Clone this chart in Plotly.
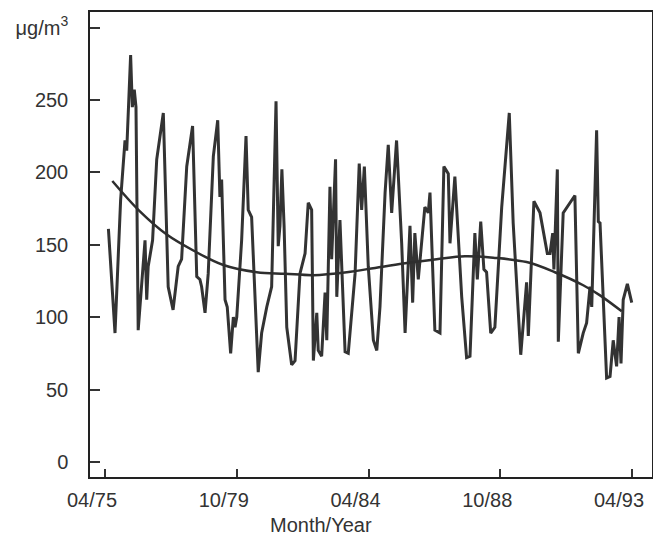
import plotly.graph_objects as go

# Month index: 0 = April 1975
series_month = [1.4, 4.1, 6.4, 8.2, 8.9, 10.5, 11.2, 12.0, 12.7, 13.6, 16.4, 17.1, 17.7, 19.5, 21.2,
                23.9, 25.9, 27.9, 30.0, 31.4, 33.5, 35.9, 37.6, 38.9, 39.6, 41.0, 42.3, 44.4, 46.2,
                47.1, 47.8, 49.2, 50.1, 51.5, 52.6, 53.3, 54.0, 56.0, 57.8, 58.7, 60.1, 62.8, 64.2,
                66.3, 68.3, 70.1, 71.0, 71.7, 72.5, 73.4, 74.5, 76.5, 77.9, 79.9, 82.0, 83.3, 84.7,
                85.4, 86.8, 87.4, 88.8, 90.2, 90.9, 92.2, 92.9, 94.5, 95.0, 96.3, 98.4, 99.7, 102.5,
                104.2, 105.2, 106.3, 107.9, 110.0, 111.4, 112.7, 114.8, 116.1, 117.5, 119.5, 121.6,
                123.0, 125.0, 126.1, 127.0, 128.4, 131.1, 132.5, 133.2, 135.2, 137.3, 138.9, 140.7,
                141.4, 143.4, 146.2, 148.2, 149.6, 151.6, 152.6, 154.0, 155.3, 156.4, 158.1, 159.8,
                162.6, 165.7, 167.3, 170.4, 172.8, 173.5, 175.8, 178.3, 181.3, 182.4, 183.5, 184.0,
                185.4, 185.8, 187.2, 187.8, 192.6, 194.0, 196.0, 197.4, 198.8, 199.5, 201.5, 202.2,
                202.9, 205.6, 207.0, 208.3, 209.7, 210.7, 211.5, 212.4, 214.1, 215.9]
series_value = [161, 89, 181, 222, 215, 281, 245, 257, 245, 91, 153, 112, 135, 153, 209,
                241, 121, 105, 135, 140, 204, 232, 128, 126, 121, 103, 130, 211, 236,
                183, 195, 112, 107, 75, 100, 93, 100, 153, 225, 174, 169, 62, 89,
                107, 121, 249, 149, 163, 202, 163, 93, 67, 70, 130, 144, 179, 174,
                70, 103, 77, 73, 117, 84, 190, 140, 209, 114, 167, 76, 75, 130,
                206, 174, 204, 135, 84, 77, 107, 186, 219, 172, 222, 151,
                89, 163, 110, 158, 126, 176, 172, 186, 91, 89, 204, 199,
                151, 197, 114, 72, 73, 158, 126, 166, 133, 131, 89, 93,
                176, 241, 165, 74, 124, 87, 180, 172, 144, 144, 158, 133,
                202, 83, 144, 172, 184, 75, 89, 96, 121, 107, 229, 166,
                165, 58, 59, 84, 66, 100, 68, 112, 123, 110]

trend_month = [3.0, 14.3, 25.3, 36.2, 48.5, 62.2, 73.8, 85.4, 99.1, 110.7, 122.3, 135.9,
               147.5, 159.1, 172.8, 184.4, 196.0, 202.9, 211.8]
trend_value = [194, 173, 157, 146, 136, 131, 130, 129, 131, 134, 137, 140,
               142, 141, 138, 131, 122, 115, 104]

x_tick_pos = [0, 54, 108, 162, 216]
x_tick_text = ["04/75", "10/79", "04/84", "10/88", "04/93"]
y_tick_pos = [0, 50, 100, 150, 200, 250, 300]
y_tick_text = ["0", "50", "100", "150", "200", "250", "\u03bcg/m<sup>3</sup>"]

fig = go.Figure()
fig.add_trace(go.Scatter(x=series_month, y=series_value, mode="lines",
                         line=dict(color="#333333", width=3), showlegend=False, hoverinfo="skip"))
fig.add_trace(go.Scatter(x=trend_month, y=trend_value, mode="lines",
                         line=dict(color="#2e2e2e", width=2.5, shape="spline"),
                         showlegend=False, hoverinfo="skip"))

font = dict(family="Liberation Sans, Arial, sans-serif", size=20, color="#333333")
L, R, T, B = 90, 1, 12, 59
W, H = 653, 536
pw, ph = W - L - R, H - T - B

fig.update_layout(
    width=W, height=H,
    margin=dict(l=L, r=R, t=T, b=B, autoexpand=False),
    paper_bgcolor="white", plot_bgcolor="white",
    font=font,
    xaxis=dict(range=[-6.15, 224.2], tickmode="array", tickvals=x_tick_pos, ticktext=x_tick_text,
               ticks="inside", ticklen=8, tickwidth=1.5, tickcolor="#333",
               showline=True, linecolor="#222", linewidth=1.5, mirror=True,
               showgrid=False, zeroline=False, tickfont=font, ticklabelstandoff=4,
               ticklabelshift=-13, ticklabeloverflow="allow"),
    yaxis=dict(range=[-10.4, 310.7], tickmode="array", tickvals=y_tick_pos, ticktext=y_tick_text,
               ticks="inside", ticklen=10, tickwidth=1.5, tickcolor="#333",
               showline=True, linecolor="#222", linewidth=1.5, mirror=True,
               showgrid=False, zeroline=False, tickfont=font, ticklabelstandoff=16,
               ticklabeloverflow="allow"),
    annotations=[dict(text="Month/Year", x=(321 - L) / pw, y=(H - B - 525) / ph,
                      xref="paper", yref="paper", xanchor="center", yanchor="middle",
                      showarrow=False, font=font)],
)

fig.write_html("out.html", config={"displayModeBar": False},
               post_script="document.body.style.margin='0';")
